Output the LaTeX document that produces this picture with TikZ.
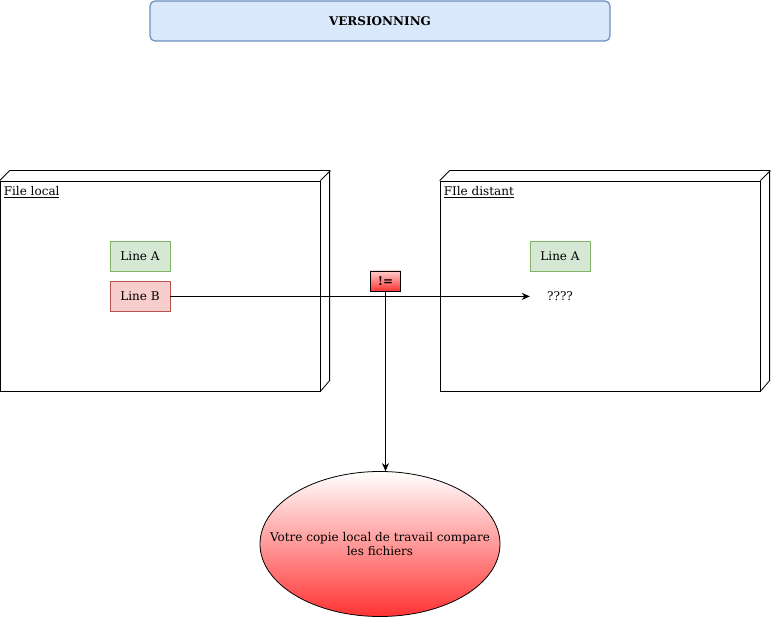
\documentclass[tikz,border=0pt]{standalone}
\usepackage{fontspec}
\setmainfont{DejaVu Serif}
\usetikzlibrary{positioning,arrows.meta,shapes.geometric}

\definecolor{titlefill}{HTML}{DAE8FC}
\definecolor{titledraw}{HTML}{6C8EBF}
\definecolor{okfill}{HTML}{D5E8D4}
\definecolor{okdraw}{HTML}{82B366}
\definecolor{kofill}{HTML}{F8CECC}
\definecolor{kodraw}{HTML}{B85450}
\definecolor{hotred}{HTML}{FF3333}
\definecolor{palered}{HTML}{FFCCCC}

\tikzset{
  txt/.style={font=\fontsize{12}{14}\selectfont},
  titlebox/.style={draw=titledraw, fill=titlefill, line width=1.2pt, rounded corners=5pt,
    minimum width=460pt, minimum height=40pt, font=\fontsize{12}{14}\selectfont\bfseries},
  filebox/.style={draw, line width=0.8pt, minimum width=320pt, minimum height=210pt, inner sep=0pt},
  filename/.style={txt, anchor=north west, inner sep=0pt, xshift=4pt, yshift=-6pt},
  okline/.style={txt, draw=okdraw, fill=okfill, minimum width=60pt, minimum height=30pt, inner sep=0pt},
  koline/.style={txt, draw=kodraw, fill=kofill, minimum width=60pt, minimum height=30pt, inner sep=0pt},
  arr/.style={-{Stealth[length=8pt,width=7pt]}, line width=0.8pt},
}

\begin{document}
\begin{tikzpicture}[x=1pt, y=-1pt]
  \useasboundingbox (0,0) rectangle (771,617);

  \node[titlebox] (title) at (380,21) {VERSIONNING};

  % fichier local
  \node[filebox] (local) at (160,286) {};
  \draw[line width=0.8pt] (local.north west) -- ++(10,-10) -- ++(320,0) -- ++(0,210) -- (local.south east);
  \draw[line width=0.8pt] (local.north east) -- ++(10,-10);
  \node[filename] (localname) at (local.north west) {\underline{File local}};
  \node[okline] (lineA) at (140,256) {Line A};
  \node[koline, below=10pt of lineA] (lineB) {Line B};

  % fichier distant
  \node[filebox] (distant) at (600,286) {};
  \draw[line width=0.8pt] (distant.north west) -- ++(10,-10) -- ++(320,0) -- ++(0,210) -- (distant.south east);
  \draw[line width=0.8pt] (distant.north east) -- ++(10,-10);
  \node[filename] (distantname) at (distant.north west) {\underline{FIle distant}};
  \node[okline] (dlineA) at (560,256) {Line A};
  \node[txt, minimum width=60pt, minimum height=30pt, inner sep=0pt, below=10pt of dlineA] (unknown) {????};

  \draw[arr] (lineB) -- (unknown);

  \node[draw, line width=0.8pt, top color=palered, bottom color=hotred, minimum width=30pt, minimum height=20pt,
    inner sep=0pt, font=\fontsize{12}{14}\selectfont\bfseries] (neq) at (385.5,281) {!=};

  \node[ellipse, draw, line width=0.8pt, top color=white, bottom color=hotred, minimum width=240pt,
    minimum height=145pt, inner sep=0pt] (compare) at (380,544) {};
  \node[txt, align=center, inner sep=0pt] (comparetext) at (compare.center)
    {Votre copie local de travail compare\\les fichiers};

  \draw[arr] (neq.south) -- (neq.south |- compare.north);
\end{tikzpicture}
\end{document}
